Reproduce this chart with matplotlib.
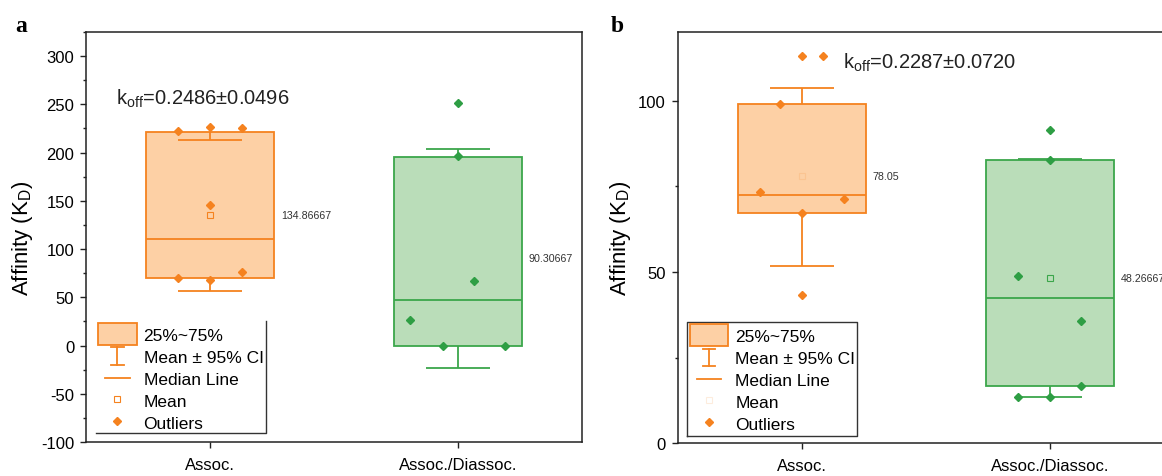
import numpy as np
import matplotlib
matplotlib.use('Agg')
import matplotlib.pyplot as plt
from matplotlib.patches import Rectangle, Patch
from matplotlib.lines import Line2D
from matplotlib.legend_handler import HandlerBase
from matplotlib.ticker import MultipleLocator

plt.rcParams['font.family'] = ['Liberation Sans', 'DejaVu Sans']
plt.rcParams['mathtext.default'] = 'regular'
plt.rcParams['axes.unicode_minus'] = False

# ============================================
# Data
# ============================================

categories = ['Assoc.', 'Assoc./Diassoc.']

# panel a
a_q1 = [69.7, 0.0]
a_median = [110.4, 47.5]
a_q3 = [221.3, 195.8]
a_mean = [134.86667, 90.30667]
a_ci_low = [56.2, -23.0]
a_ci_high = [213.0, 203.7]
a_points_assoc = [222.5, 227.0, 226.0, 146.0, 69.7, 67.6, 76.5]
a_points_diss = [251.7, 196.0, 67.2, 26.9, 0.0, 0.0]
a_koff = '0.2486±0.0496'

# panel b
b_q1 = [67.1, 16.8]
b_median = [72.4, 42.3]
b_q3 = [99.1, 82.7]
b_mean = [78.05, 48.26667]
b_ci_low = [51.9, 13.4]
b_ci_high = [103.8, 82.9]
b_points_assoc = [113.0, 113.0, 99.0, 73.4, 71.4, 67.1, 43.3]
b_points_diss = [91.6, 82.7, 48.7, 35.6, 16.8, 13.4, 13.4]
b_koff = '0.2287±0.0720'

# horizontal spread of the raw points around the category centre
a_dx_assoc = [-0.129, 0, 0.128, 0, -0.129, 0, 0.128]
a_dx_diss = [0, 0, 0.065, -0.192, -0.06, 0.19]
b_dx_assoc = [0, 0.087, -0.086, -0.168, 0.172, 0, 0]
b_dx_diss = [0, 0, -0.129, 0.127, 0.127, -0.129, 0]

# ============================================
# Styles
# ============================================

ORANGE = '#F5821F'
ORANGE_FILL = '#FDD0A5'
GREEN = '#3BA64B'
GREEN_FILL = '#BADDB9'
GREEN_PT = '#2E9E44'
BOX_W = 0.516


class BoxHandler(HandlerBase):
    def create_artists(self, legend, orig_handle, xdescent, ydescent,
                       width, height, fontsize, trans):
        y0 = -ydescent - height * 0.2
        h = height * 1.4
        r = Rectangle((-xdescent, y0), width, h, facecolor=ORANGE_FILL,
                      edgecolor=ORANGE, lw=1.3, transform=trans)
        return [r]


class CIHandler(HandlerBase):
    def create_artists(self, legend, orig_handle, xdescent, ydescent,
                       width, height, fontsize, trans):
        cx = -xdescent + width / 2
        bot = -ydescent - height * 0.1
        top = -ydescent + height * 1.05
        hw = width * 0.16
        c = orig_handle.get_color()
        arts = [Line2D([cx, cx], [bot, top], color=c, lw=1.3),
                Line2D([cx - hw, cx + hw], [top, top], color=c, lw=1.3),
                Line2D([cx - hw, cx + hw], [bot, bot], color=c, lw=1.3)]
        for a in arts:
            a.set_transform(trans)
        return arts


class MedianHandler(HandlerBase):
    def create_artists(self, legend, orig_handle, xdescent, ydescent,
                       width, height, fontsize, trans):
        cy = -ydescent + height / 2
        x0 = -xdescent + width * 0.18
        x1 = -xdescent + width * 0.82
        ln = Line2D([x0, x1], [cy, cy], color=orig_handle.get_color(), lw=1.3)
        ln.set_transform(trans)
        return [ln]


def draw_box(ax, x, q1, med, q3, mean, lo, hi, pts, dxs, edge, fill, ptc,
             mean_alpha):
    ax.add_patch(Rectangle((x - BOX_W / 2, q1), BOX_W, q3 - q1, facecolor=fill,
                           edgecolor=edge, lw=1.3, zorder=2))
    ax.hlines(med, x - BOX_W / 2, x + BOX_W / 2, color=edge, lw=1.3, zorder=3)
    ax.vlines(x, q3, hi, color=edge, lw=1.3, zorder=3)
    ax.vlines(x, q1, lo, color=edge, lw=1.3, zorder=3)
    ax.hlines([hi, lo], x - BOX_W / 4, x + BOX_W / 4, color=edge, lw=1.3, zorder=3)
    ax.plot(x, mean, 's', ms=4, mfc='none', mec=edge, mew=0.8, alpha=mean_alpha,
            zorder=4)
    ax.plot(x + np.array(dxs), pts, 'D', ms=4, color=ptc, zorder=5)
    ax.text(x + BOX_W / 2 + 0.028, mean, str(mean), fontsize=7.7,
            va='center', ha='left', color='#333333')


def draw_panel(ax, q1, med, q3, mean, lo, hi, points, dxs, koff, koff_xy,
               ylim, major, mean_alphas, legend_frame):
    edges = [ORANGE, GREEN]
    fills = [ORANGE_FILL, GREEN_FILL]
    ptcs = [ORANGE, GREEN_PT]
    for i in range(len(categories)):
        draw_box(ax, i + 1, q1[i], med[i], q3[i], mean[i], lo[i], hi[i],
                 points[i], dxs[i], edges[i], fills[i], ptcs[i], mean_alphas[i])

    ax.set_xlim(0.5, 2.5)
    ax.set_ylim(*ylim)
    ax.set_xticks([1, 2])
    ax.set_xticklabels(categories)
    ax.yaxis.set_major_locator(MultipleLocator(major))
    ax.yaxis.set_minor_locator(MultipleLocator(major / 2))
    ax.tick_params(axis='both', which='major', labelsize=12, length=4.5,
                   width=1.0, pad=4, color='#222222')
    ax.tick_params(axis='x', pad=6)
    ax.tick_params(axis='y', which='minor', length=2.5, width=1.0, color='#222222')
    for s in ax.spines.values():
        s.set_linewidth(1.1)
        s.set_color('#222222')
    ax.set_ylabel('Affinity (K$_D$)', fontsize=16, labelpad=4)

    ax.text(koff_xy[0], koff_xy[1], 'k$_{off}$=' + koff, fontsize=14.5,
            transform=ax.transAxes, va='baseline', ha='left', color='#222222')

    handles = [Patch(facecolor=ORANGE_FILL, edgecolor=ORANGE, lw=1.3),
               Line2D([], [], color=ORANGE),
               Line2D([], [], color=ORANGE),
               Line2D([], [], ls='none', marker='s', ms=4, mfc='none',
                      mec=ORANGE, mew=0.8, alpha=mean_alphas[0]),
               Line2D([], [], ls='none', marker='D', ms=4, color=ORANGE)]
    labels = ['25%~75%', 'Mean ± 95% CI', 'Median Line', 'Mean', 'Outliers']
    ax.legend(handles, labels, loc='lower left', bbox_to_anchor=(0.025, 0.028),
              borderpad=0, borderaxespad=0, frameon=False, fontsize=12.5,
              handlelength=2.2, handleheight=1.0, handletextpad=0.4,
              labelspacing=0.3,
              handler_map={handles[0]: BoxHandler(), handles[1]: CIHandler(),
                           handles[2]: MedianHandler()})

    x0, y0, x1, y1 = legend_frame['box']
    fkw = dict(transform=ax.transAxes, color='#333333', lw=1.0, clip_on=False)
    if legend_frame['full']:
        ax.plot([x0, x1, x1, x0, x0], [y0, y0, y1, y1, y0], **fkw)
    else:
        ax.plot([x0, x1, x1], [y0, y0, y1], **fkw)


fig = plt.figure(figsize=(11.62, 4.77), dpi=100)
ax_a = fig.add_axes([0.074, 0.0713, 0.4269, 0.8595])
ax_b = fig.add_axes([0.5832, 0.0686, 0.4269, 0.8616])

draw_panel(ax_a, a_q1, a_median, a_q3, a_mean, a_ci_low, a_ci_high,
           [a_points_assoc, a_points_diss], [a_dx_assoc, a_dx_diss],
           a_koff, (0.06, 0.826), (-100, 325), 50, [1.0, 0.0],
           {'box': (0.02, 0.022, 0.363, 0.295), 'full': False})

draw_panel(ax_b, b_q1, b_median, b_q3, b_mean, b_ci_low, b_ci_high,
           [b_points_assoc, b_points_diss], [b_dx_assoc, b_dx_diss],
           b_koff, (0.333, 0.915), (0, 120), 50, [0.15, 1.0],
           {'box': (0.019, 0.018, 0.361, 0.294), 'full': True})

fig.text(15 / 1162, 1 - 32 / 477, 'a', fontsize=17, fontweight='bold',
         family='Liberation Serif', va='baseline')
fig.text(611 / 1162, 1 - 32 / 477, 'b', fontsize=17, fontweight='bold',
         family='Liberation Serif', va='baseline')

fig.savefig('out.png', dpi=100)
